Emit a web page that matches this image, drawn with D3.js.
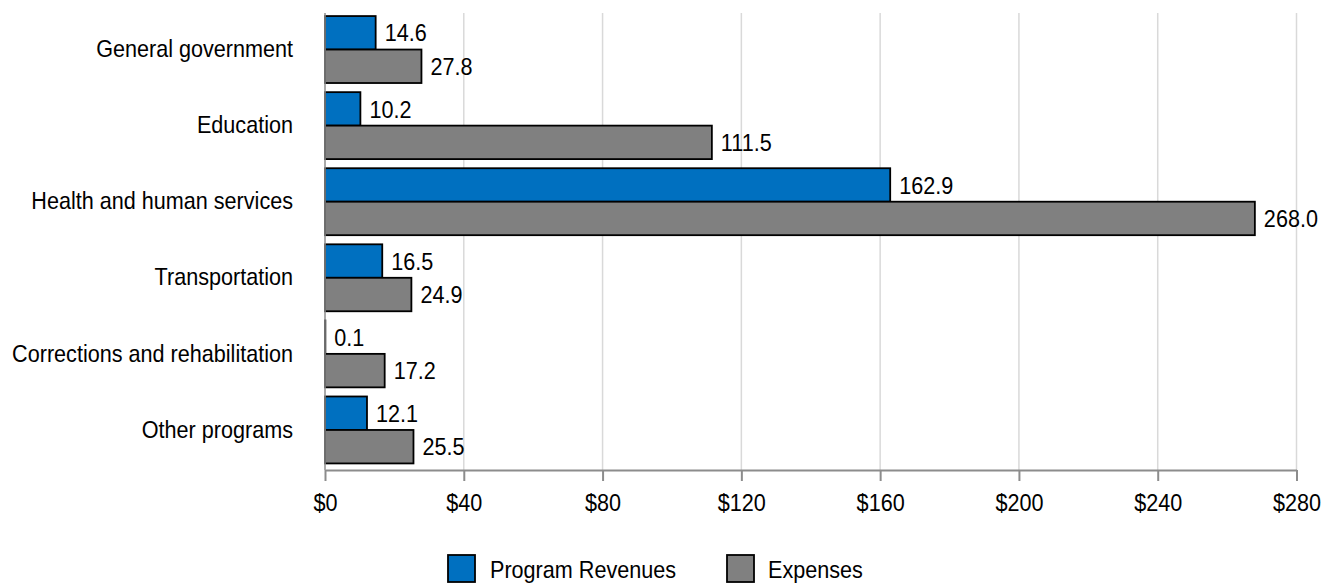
<!DOCTYPE html>
<html>
<head>
<meta charset="utf-8">
<script src="https://cdn.jsdelivr.net/npm/d3@7"></script>
<style>
  html, body { margin: 0; padding: 0; background: #fff; }
  svg { display: block; font-family: "Liberation Sans", Arial, sans-serif; }
  text { fill: #000; }
</style>
</head>
<body>
<svg id="chart" width="1331" height="584"></svg>
<script>
// Program revenues vs. expenses by function (dollars in billions)
const categories = [
  "General government",
  "Education",
  "Health and human services",
  "Transportation",
  "Corrections and rehabilitation",
  "Other programs"
];
const seriesNames = ["Program Revenues", "Expenses"];
const programRevenues = [14.6, 10.2, 162.9, 16.5, 0.1, 12.1];
const expenses = [27.8, 111.5, 268.0, 24.9, 17.2, 25.5];
const xTicks = [0, 40, 80, 120, 160, 200, 240, 280];

const colors = { "Program Revenues": "#0070C0", "Expenses": "#808080" };
const FONT = 24;      // label size
const NARROW = 0.9;   // horizontal condensing of the type

const svg = d3.select("#chart");

const x = d3.scaleLinear().domain([0, 280]).range([325, 1296.5]);
const y = d3.scaleBand().domain(categories).range([11.5, 468])
  .paddingInner(0.12).paddingOuter(0.06);
const ySub = d3.scaleBand().domain(seriesNames).range([0, y.bandwidth()]);

const plotTop = 13, plotBottom = 470;

// vertical gridlines
svg.append("g").selectAll("line").data(xTicks.slice(1)).join("line")
  .attr("x1", d => x(d)).attr("x2", d => x(d))
  .attr("y1", plotTop).attr("y2", plotBottom)
  .attr("stroke", "#d9d9d9").attr("stroke-width", 1.5);

// rows of data
const rows = categories.map((c, i) => ({
  category: c,
  values: [
    { series: "Program Revenues", value: programRevenues[i] },
    { series: "Expenses", value: expenses[i] }
  ]
}));

const groups = svg.append("g").selectAll("g").data(rows).join("g")
  .attr("transform", d => `translate(0,${y(d.category)})`);

groups.selectAll("rect").data(d => d.values).join("rect")
  .attr("x", x(0))
  .attr("y", d => ySub(d.series))
  .attr("width", d => x(d.value) - x(0))
  .attr("height", ySub.bandwidth())
  .attr("fill", d => colors[d.series])
  .attr("stroke", "#000")
  .attr("stroke-width", 1.8);

groups.selectAll("text").data(d => d.values).join("text")
  .attr("transform", d => `translate(${x(d.value) + 9},${ySub(d.series) + ySub.bandwidth() / 2}) scale(${NARROW},1)`)
  .attr("dy", "0.36em")
  .style("font-size", FONT + "px")
  .text(d => d.value.toFixed(1));

// bottom axis
const xAxis = svg.append("g")
  .attr("transform", `translate(0,${plotBottom})`)
  .call(d3.axisBottom(x).tickValues(xTicks).tickFormat(d => "$" + d)
    .tickSize(11).tickSizeOuter(0).tickPadding(13));
xAxis.select(".domain").attr("stroke", "#8c8c8c").attr("stroke-width", 2);
xAxis.selectAll(".tick line").attr("stroke", "#8c8c8c").attr("stroke-width", 2);
xAxis.selectAll(".tick text")
  .attr("fill", "#000")
  .style("font-size", FONT + "px")
  .style("font-family", "'Liberation Sans', Arial, sans-serif")
  .attr("transform", `scale(${NARROW},1)`);

// left axis (category names)
const yAxis = svg.append("g")
  .attr("transform", `translate(${x(0)},0)`)
  .call(d3.axisLeft(y).tickSize(0).tickSizeOuter(0).tickPadding(31));
yAxis.select(".domain")
  .attr("d", `M0,${plotTop}V${plotBottom}`)
  .attr("stroke", "#8c8c8c").attr("stroke-width", 1.5);
yAxis.selectAll(".tick text")
  .attr("fill", "#000")
  .attr("x", -32 / NARROW)
  .style("font-size", FONT + "px")
  .style("font-family", "'Liberation Sans', Arial, sans-serif")
  .attr("transform", `scale(${NARROW},1)`);

// legend
const legendItems = [
  { name: "Program Revenues", box: 448, label: 490 },
  { name: "Expenses", box: 727, label: 768 }
];
const legend = svg.append("g");
legend.selectAll("rect").data(legendItems).join("rect")
  .attr("x", d => d.box).attr("y", 555)
  .attr("width", 27).attr("height", 27)
  .attr("fill", d => colors[d.name])
  .attr("stroke", "#000").attr("stroke-width", 1.8);
legend.selectAll("text").data(legendItems).join("text")
  .attr("transform", d => `translate(${d.label},569) scale(${NARROW},1)`)
  .attr("dy", "0.36em")
  .style("font-size", FONT + "px")
  .text(d => d.name);
</script>
</body>
</html>
